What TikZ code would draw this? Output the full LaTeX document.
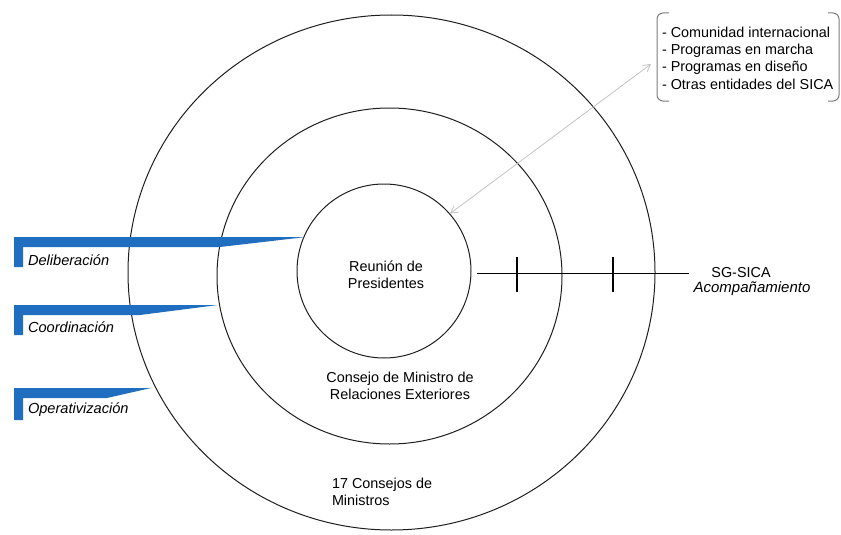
\documentclass[tikz,border=0pt]{standalone}
\usepackage{fontspec}
\setmainfont{Liberation Sans}
\usetikzlibrary{arrows.meta}
\definecolor{custcol_blue}{RGB}{31, 110, 192}
\definecolor{custcol_arrow}{RGB}{195, 195, 195}
\definecolor{custcol_frame}{RGB}{125, 125, 125}
\definecolor{custcol_ring}{RGB}{30, 30, 30}
\tikzset{
  ring/.style={line width=1.0pt, custcol_ring},
  lbl/.style={inner sep=0, outer sep=0, align=center, font=\fontsize{14.4pt}{17pt}\selectfont},
  flaglbl/.style={lbl, anchor=west, font=\fontsize{14.6pt}{17pt}\selectfont\itshape},
  flag/.style={fill=custcol_blue, draw=none},
  tickmark/.style={line width=2.0pt, black},
  bracket/.style={line width=1.0pt, custcol_frame, rounded corners=6pt},
}
\begin{document}
\begin{tikzpicture}[x=1pt,y=-1pt]
\useasboundingbox (0,0) rectangle (841,535);
% three rings
\draw [ring] (391.5,272.5) ellipse (263.5 and 257.5);
\draw [ring] (389.5,276.0) ellipse (172.5 and 168.0);
\node [ring, draw, circle, minimum size=174pt, inner sep=0] (reunion) at (384,271) {};
% ring labels
\node [lbl] (presid) at (386,275) {Reunión de\\Presidentes};
\node [lbl] (cmre) at (400,385.5) {Consejo de Ministro de\\Relaciones Exteriores};
\node [lbl, align=left, anchor=west] (consejos) at (332,491.5) {17 Consejos de\\Ministros};
% blue flags on the left
\foreach \ty/\tip/\taper/\bar in {237/306/220/267, 305/218/140/335, 388/151/107/420}
  \fill [flag] (14,\ty) -- (\tip,\ty) -- (\taper,\ty+10) -- (23,\ty+10) -- (23,\bar) -- (14,\bar) -- cycle;
\node [flaglbl] (delib) at (28,260) {Deliberación};
\node [flaglbl] (coord) at (28,327) {Coordinación};
\node [flaglbl] (operat) at (28,410) {Operativización};
% SG-SICA line with ticks
\node [lbl] (sgsica) at (741,273) {SG-SICA};
\node [flaglbl, anchor=center, font=\fontsize{15pt}{17pt}\selectfont\itshape] (acomp) at (752,289) {Acompañamiento};
\coordinate (sgstart) at (477,273);
\coordinate (sgend) at (689,273);
\draw [line width=1.0pt, black] (sgstart) -- (sgend);
\foreach \tx in {517,613}
  \draw [tickmark] (\tx,257) -- (\tx,292);
% list of outside actors
\node [lbl, align=left, anchor=west, font=\fontsize{14.4pt}{17.3pt}\selectfont] (otros) at (662,58) {- Comunidad internacional\\- Programas en marcha\\- Programas en diseño\\- Otras entidades del SICA};
\draw [bracket] (669,13) -- (657,13) -- (657,101) -- (669,101);
\draw [bracket] (828,13) -- (839,13) -- (839,101) -- (828,101);
\coordinate (otrosin) at (651,64);
\draw [line width=0.8pt, custcol_arrow, {Straight Barb[length=7pt,width=8pt]}-{Straight Barb[length=7pt,width=8pt]}] (reunion.41) -- (otrosin);
\end{tikzpicture}
\end{document}
